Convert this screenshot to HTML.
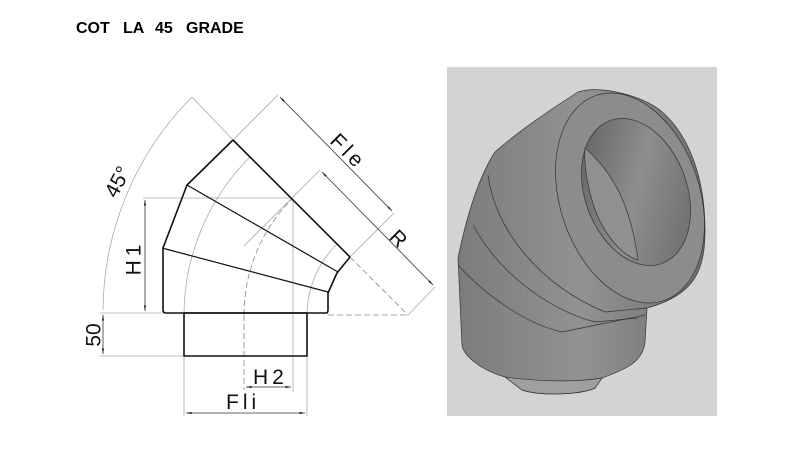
<!DOCTYPE html>
<html><head><meta charset="utf-8"><style>
html,body{margin:0;padding:0;background:#fff;width:806px;height:452px;overflow:hidden}
svg{display:block}
text{font-family:"Liberation Sans",Arial,sans-serif}
</style></head><body>
<svg width="806" height="452" viewBox="0 0 806 452" xmlns="http://www.w3.org/2000/svg">
<defs>
<marker id="a" viewBox="0 0 10 10" refX="10" refY="5" markerWidth="7" markerHeight="7" orient="auto-start-reverse"><path d="M0,3 L10,5 L0,7 z" fill="#222"/></marker>
<linearGradient id="body" x1="0" y1="0" x2="1" y2="0"><stop offset="0" stop-color="#7c7c7c"/><stop offset="0.5" stop-color="#929292"/><stop offset="1" stop-color="#707070"/></linearGradient>
<linearGradient id="hole" x1="0" y1="0" x2="1" y2="1"><stop offset="0" stop-color="#5a5a5a"/><stop offset="0.5" stop-color="#8e8e8e"/><stop offset="1" stop-color="#666"/></linearGradient>
</defs>
<g font-size="16" font-weight="bold" fill="#000">
<text x="76" y="33">COT</text>
<text x="123" y="33">LA</text>
<text x="155" y="33">45</text>
<text x="186" y="33">GRADE</text>
</g>

<g fill="none" stroke="#aaa" stroke-width="0.8">
<path d="M103,310 A305,305 0 0 1 192,97"/>
<path d="M184,315 A224,224 0 0 1 250,157"/>
<path d="M307,315 A101,101 0 0 1 337,244"/>
<line x1="192" y1="97" x2="233" y2="140"/>
<line x1="278" y1="95" x2="200" y2="173"/>
<line x1="394" y1="213" x2="350" y2="257"/>
<line x1="320" y1="170" x2="244" y2="246"/>
<line x1="435" y1="287" x2="408" y2="315"/>
<line x1="143" y1="198" x2="293" y2="198"/>
<line x1="293" y1="198" x2="293" y2="392"/>
<line x1="184" y1="313" x2="184" y2="416"/>
<line x1="307" y1="313" x2="307" y2="416"/>
<line x1="100" y1="313" x2="163" y2="313"/>
<line x1="100" y1="356" x2="184" y2="356"/>
</g>
<g fill="none" stroke="#888" stroke-width="0.8" stroke-dasharray="6,3">
<path d="M244,315 A164,164 0 0 1 292,199"/>
<line x1="292" y1="199" x2="350" y2="257"/>
<line x1="328" y1="315" x2="408" y2="315"/>
<line x1="350" y1="257" x2="408" y2="315"/>
<line x1="244" y1="315" x2="244" y2="390"/>
</g>
<g stroke="#333" stroke-width="0.8" fill="none" marker-start="url(#a)" marker-end="url(#a)">
<line x1="280" y1="97" x2="392" y2="211"/>
<line x1="322" y1="172" x2="433" y2="285"/>
<line x1="145" y1="200" x2="145" y2="311"/>
<line x1="103" y1="315" x2="103" y2="354"/>
<line x1="246" y1="387" x2="291" y2="387"/>
<line x1="186" y1="413" x2="305" y2="413"/>
</g>

<g fill="none" stroke="#111" stroke-width="1.6" stroke-linejoin="round">
<path d="M233,140 L187,185 L163,248 L163,310 Q163,313 166,313 L326,313 Q328,313 328,310 L328,293 L337,273 L350,257"/>
<line x1="233" y1="140" x2="350" y2="257"/>
<rect x="184" y="313" width="123" height="43"/>
</g>
<g stroke="#111" stroke-width="1.2">
<line x1="187" y1="185" x2="338" y2="272"/>
<line x1="162" y1="248" x2="328" y2="292"/>
</g>

<g font-size="21" fill="#111">
<text transform="translate(134,258) rotate(-90)" text-anchor="middle" dominant-baseline="central" letter-spacing="4">H1</text>
<text transform="translate(94,335) rotate(-90)" text-anchor="middle" dominant-baseline="central">50</text>
<text transform="translate(118,182) rotate(-62)" text-anchor="middle" dominant-baseline="central">45°</text>
<text transform="translate(348,152) rotate(45)" text-anchor="middle" dominant-baseline="central" letter-spacing="4">Fle</text>
<text transform="translate(398,239) rotate(45)" text-anchor="middle" dominant-baseline="central">R</text>
<text x="253" y="384" letter-spacing="4">H2</text>
<text x="226" y="409" letter-spacing="4">Fli</text>
</g>

<rect x="447" y="67" width="270" height="349" fill="#d3d3d3"/>
<g stroke="#333" stroke-width="0.7" stroke-linejoin="round">
<path fill="url(#body)" d="M578,92 C600,85 640,95 660,110 C690,135 705,180 705,230 C705,270 695,295 647,308 L645,342 C643,360 630,368 602,378 L595,388 C580,395 540,396 522,390 L505,377 C480,370 463,355 462,345 L458,258 C468,210 480,175 495,152 C520,130 550,110 578,92 Z"/>
<path fill="#a0a0a0" d="M505,377 C540,382 580,382 602,378 L595,388 C580,395 540,396 522,390 Z"/>
<ellipse cx="630" cy="198" rx="70" ry="108" transform="rotate(-18 630 198)" fill="#8c8c8c"/>
<ellipse cx="636" cy="192" rx="51" ry="76" transform="rotate(-20 636 192)" fill="url(#hole)"/>
<path fill="#909090" stroke="#333" d="M585,148 C610,170 630,200 638,260 C620,255 600,230 592,200 C586,180 584,160 585,148 Z"/>
<g fill="none">
<path d="M488,175 C495,230 540,285 605,312 L647,308"/>
<path d="M473,225 C500,275 550,310 595,322 L638,318"/>
<path d="M458,265 C490,300 530,325 562,332 L645,315"/>
</g>
</g>
</svg>
</body></html>
